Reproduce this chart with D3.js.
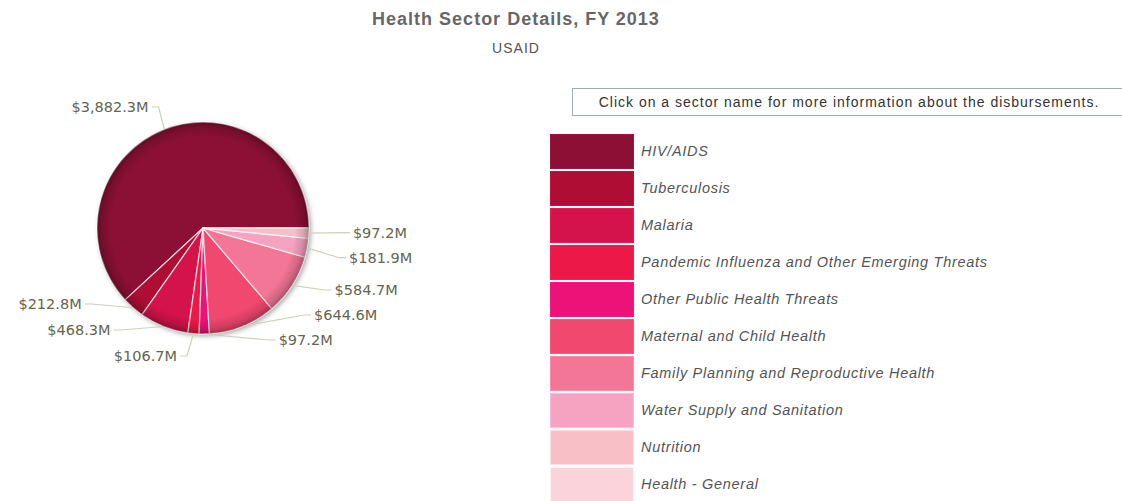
<!DOCTYPE html>
<html>
<head>
<meta charset="utf-8">
<script src="https://cdn.jsdelivr.net/npm/d3@7"></script>
<style>
  body { margin: 0; background: #fff; }
  svg { display: block; }
</style>
</head>
<body>
<svg id="chart"></svg>
<script>
// chart data
const sectors = ["HIV/AIDS", "Tuberculosis", "Malaria", "Pandemic Influenza and Other Emerging Threats",
  "Other Public Health Threats", "Maternal and Child Health", "Family Planning and Reproductive Health",
  "Water Supply and Sanitation", "Nutrition", "Health - General"];
const amounts = [3882.3, 212.8, 468.3, 106.7, 97.2, 644.6, 584.7, 181.9, 97.2, 0];
const colors = ["#8c1036", "#b00d35", "#d3134a", "#ec1847", "#ec1277", "#f0486f",
  "#f47697", "#f6a2c1", "#f8bfc7", "#fad4da"];

const width = 1122;
const height = 501;
const svg = d3.select("#chart")
              .attr("width", width)
              .attr("height", height);

const fmt = d3.format(",.1f");

// title
svg.append("text")
    .attr("x", 516).attr("y", 25)
    .attr("text-anchor", "middle")
    .style("font", "bold 18px 'Liberation Sans', Arial, sans-serif")
    .style("letter-spacing", "1px")
    .style("fill", "#676767")
    .text("Health Sector Details, FY 2013");
svg.append("text")
    .attr("x", 516).attr("y", 53)
    .attr("text-anchor", "middle")
    .style("font", "14px 'Liberation Sans', Arial, sans-serif")
    .style("letter-spacing", "1px")
    .style("fill", "#555")
    .text("USAID");

// pie
const cx = 203, cy = 228, r = 106;
const defs = svg.append("defs");
const shadow = defs.append("filter").attr("id", "shadow")
    .attr("x", "-20%").attr("y", "-20%").attr("width", "140%").attr("height", "140%");
shadow.append("feDropShadow")
    .attr("dx", 2).attr("dy", 2).attr("stdDeviation", 2.5)
    .attr("flood-color", "#000").attr("flood-opacity", 0.35);
const bevel = defs.append("radialGradient").attr("id", "bevel");
bevel.append("stop").attr("offset", "0.86").attr("stop-color", "#000").attr("stop-opacity", 0);
bevel.append("stop").attr("offset", "0.95").attr("stop-color", "#000").attr("stop-opacity", 0.14);
bevel.append("stop").attr("offset", "1").attr("stop-color", "#000").attr("stop-opacity", 0.32);

const pie = d3.pie().sort(null).value(d => d)
    .startAngle(Math.PI / 2).endAngle(Math.PI / 2 - 2 * Math.PI);
const arcs = pie(amounts);
const arc = d3.arc().innerRadius(0).outerRadius(r);

const pieG = svg.append("g").attr("transform", `translate(${cx},${cy})`);
pieG.append("circle").attr("r", r).attr("fill", "#fff").attr("filter", "url(#shadow)");
pieG.selectAll("path.slice")
    .data(arcs.filter(d => d.value > 0))
    .enter().append("path")
      .attr("class", "slice")
      .attr("d", arc)
      .attr("fill", d => colors[d.index])
      .attr("stroke", "rgba(255,255,255,0.7)")
      .attr("stroke-width", 1.3)
      .attr("stroke-linejoin", "round");
pieG.append("circle").attr("r", r).attr("fill", "url(#bevel)");

// labels, spread so they don't overlap
const labels = arcs.filter(d => d.value > 0).map(d => {
  const mid = (d.startAngle + d.endAngle) / 2;
  return {
    d: d,
    side: Math.sin(mid) >= 0 ? 1 : -1,
    ex: cx + r * Math.sin(mid),
    ey: cy - r * Math.cos(mid),
    y: cy - (r + 40) * Math.cos(mid)
  };
});

function spread(items, gap, lo, hi) {
  items.sort((a, b) => a.y - b.y);
  for (let k = 0; k < 200; k++) {
    for (let i = 1; i < items.length; i++) {
      const dd = items[i].y - items[i - 1].y;
      if (dd < gap) {
        const m = (gap - dd) / 2;
        items[i].y += m;
        items[i - 1].y -= m;
      }
    }
    items.forEach(o => o.y = Math.max(lo, Math.min(hi, o.y)));
  }
}
spread(labels.filter(o => o.side > 0), 25, cy - r - 15, cy + r + 6);
spread(labels.filter(o => o.side < 0), 26, cy - r - 15, cy + r + 22);

labels.forEach(o => {
  const dy = o.y - cy;
  const rl = 150 - 20 * Math.pow(dy / 130, 2);
  o.x = cx + o.side * Math.sqrt(Math.max(0, rl * rl - dy * dy));
});

const labelG = svg.append("g");
labelG.selectAll("polyline")
    .data(labels)
    .enter().append("polyline")
      .attr("points", o => [[o.ex, o.ey], [o.x - o.side * 10, o.y], [o.x - o.side * 3, o.y]].join(" "))
      .attr("fill", "none")
      .attr("stroke", "#cfd0b8")
      .attr("stroke-width", 1.2);
labelG.selectAll("text")
    .data(labels)
    .enter().append("text")
      .attr("x", o => o.x)
      .attr("y", o => o.y + 5)
      .attr("text-anchor", o => o.side > 0 ? "start" : "end")
      .style("font", "14.5px 'DejaVu Sans', Verdana, sans-serif")
      .style("fill", "#65654f")
      .text(o => "$" + fmt(o.d.value) + "M");

// info box
svg.append("rect")
    .attr("x", 572.5).attr("y", 88.5)
    .attr("width", 560).attr("height", 27)
    .attr("fill", "#fff")
    .attr("stroke", "#a3abb3")
    .attr("stroke-width", 1);
svg.append("text")
    .attr("x", 849).attr("y", 107)
    .attr("text-anchor", "middle")
    .style("font", "14px 'Liberation Sans', Arial, sans-serif")
    .style("letter-spacing", "1px")
    .style("fill", "#333")
    .text("Click on a sector name for more information about the disbursements.");

// legend
const legend = svg.append("g").selectAll("g")
    .data(sectors)
    .enter().append("g")
      .attr("transform", (d, i) => `translate(550,${134 + i * 37})`);
legend.append("rect")
    .attr("x", 0.5).attr("y", 0.5)
    .attr("width", 83).attr("height", 34)
    .attr("fill", (d, i) => colors[i])
    .attr("stroke", (d, i) => d3.color(colors[i]).brighter(0.4))
    .attr("stroke-width", 1);
legend.append("text")
    .attr("x", 91).attr("y", 22)
    .style("font", "italic 14.5px 'Liberation Sans', Arial, sans-serif")
    .style("letter-spacing", "0.7px")
    .style("fill", "#555")
    .text(d => d);
</script>
</body>
</html>
